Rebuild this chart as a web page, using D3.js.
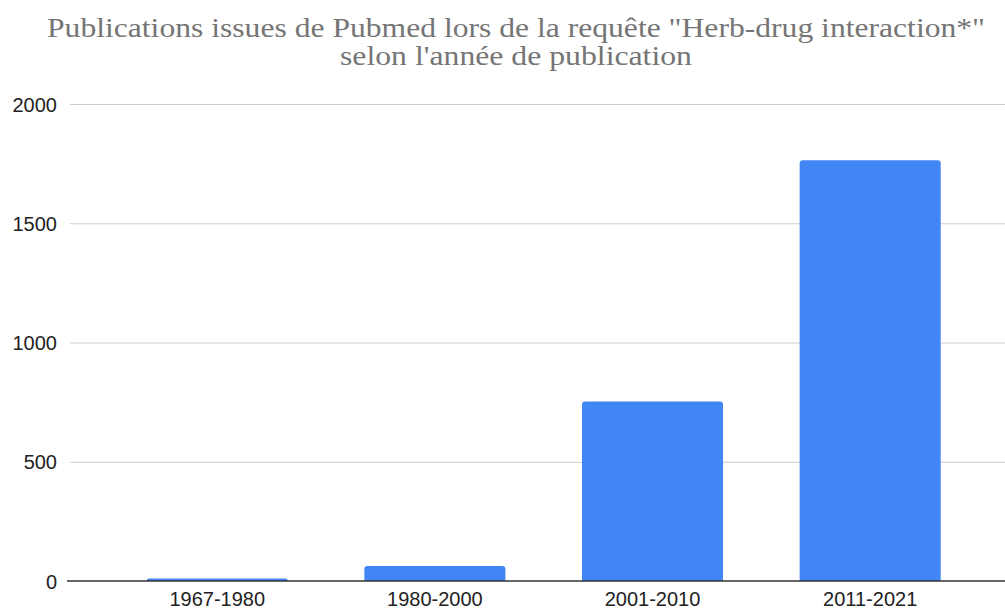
<!DOCTYPE html>
<html><head><meta charset="utf-8">
<script src="https://cdn.jsdelivr.net/npm/d3@7"></script>
<style>body{margin:0;background:#fff}</style>
</head><body>
<svg id="c" width="1005" height="611"></svg>
<script>
const categories = ["1967-1980", "1980-2000", "2001-2010", "2011-2021"];
const values = [10, 63, 753, 1764];
const yTicks = [0, 500, 1000, 1500, 2000];
const titleLines = ["Publications issues de Pubmed lors de la requête \"Herb-drug interaction*\"", "selon l'année de publication"];
const titleWidths = [938, 352];

const svg = d3.select("#c");
const W = 1005, H = 611;
const y = d3.scaleLinear().domain([0, 2000]).range([581, 104]);
const x = d3.scaleBand().domain(categories).range([146.7, 940.7]).paddingInner(0.352).paddingOuter(0);

svg.append("rect").attr("width", W).attr("height", H).attr("fill", "#fff");

// title
const t = svg.append("g");
titleLines.forEach((s, i) => {
  t.append("text").attr("x", 516).attr("y", 37 + i * 28)
    .attr("text-anchor", "middle").attr("fill", "#757575")
    .attr("font-family", "Liberation Serif, serif").attr("font-size", 28)
    .attr("textLength", titleWidths[i]).attr("lengthAdjust", "spacingAndGlyphs")
    .text(s);
});

// gridlines
const yAxis = d3.axisLeft(y).tickValues(yTicks).tickFormat(d3.format("d")).tickSize(-(W - 70)).tickPadding(13);
const ga = svg.append("g").attr("transform", "translate(70,0)").call(yAxis);
ga.select(".domain").remove();
ga.selectAll(".tick line").attr("stroke", "#cccccc").attr("stroke-width", 1);
ga.selectAll(".tick text").attr("fill", "#222").attr("font-family", "Liberation Sans, Arial, sans-serif").attr("font-size", 20).attr("dy", "0.35em");
ga.selectAll(".tick").filter(d => d === 0).select("line").attr("stroke", "none");

// bars with rounded top corners
const r = 3;
svg.append("g").selectAll("path").data(values).join("path")
  .attr("fill", "#4285F4")
  .attr("d", (v, i) => {
    const x0 = x(categories[i]), w = x.bandwidth(), y0 = y(v), y1 = y(0);
    const rr = Math.min(r, (y1 - y0));
    return `M${x0},${y1}V${y0 + rr}Q${x0},${y0} ${x0 + rr},${y0}H${x0 + w - rr}Q${x0 + w},${y0} ${x0 + w},${y0 + rr}V${y1}Z`;
  });

// baseline
svg.append("line").attr("x1", 67).attr("x2", W).attr("y1", y(0)).attr("y2", y(0)).attr("stroke", "#333").attr("stroke-width", 1.5);

// x axis labels
const xAxis = d3.axisBottom(x).tickSize(0).tickPadding(11);
const gx = svg.append("g").attr("transform", `translate(0,${y(0)})`).call(xAxis);
gx.select(".domain").remove();
gx.selectAll(".tick text").attr("fill", "#222").attr("font-family", "Liberation Sans, Arial, sans-serif").attr("font-size", 20);
</script>
</body></html>
